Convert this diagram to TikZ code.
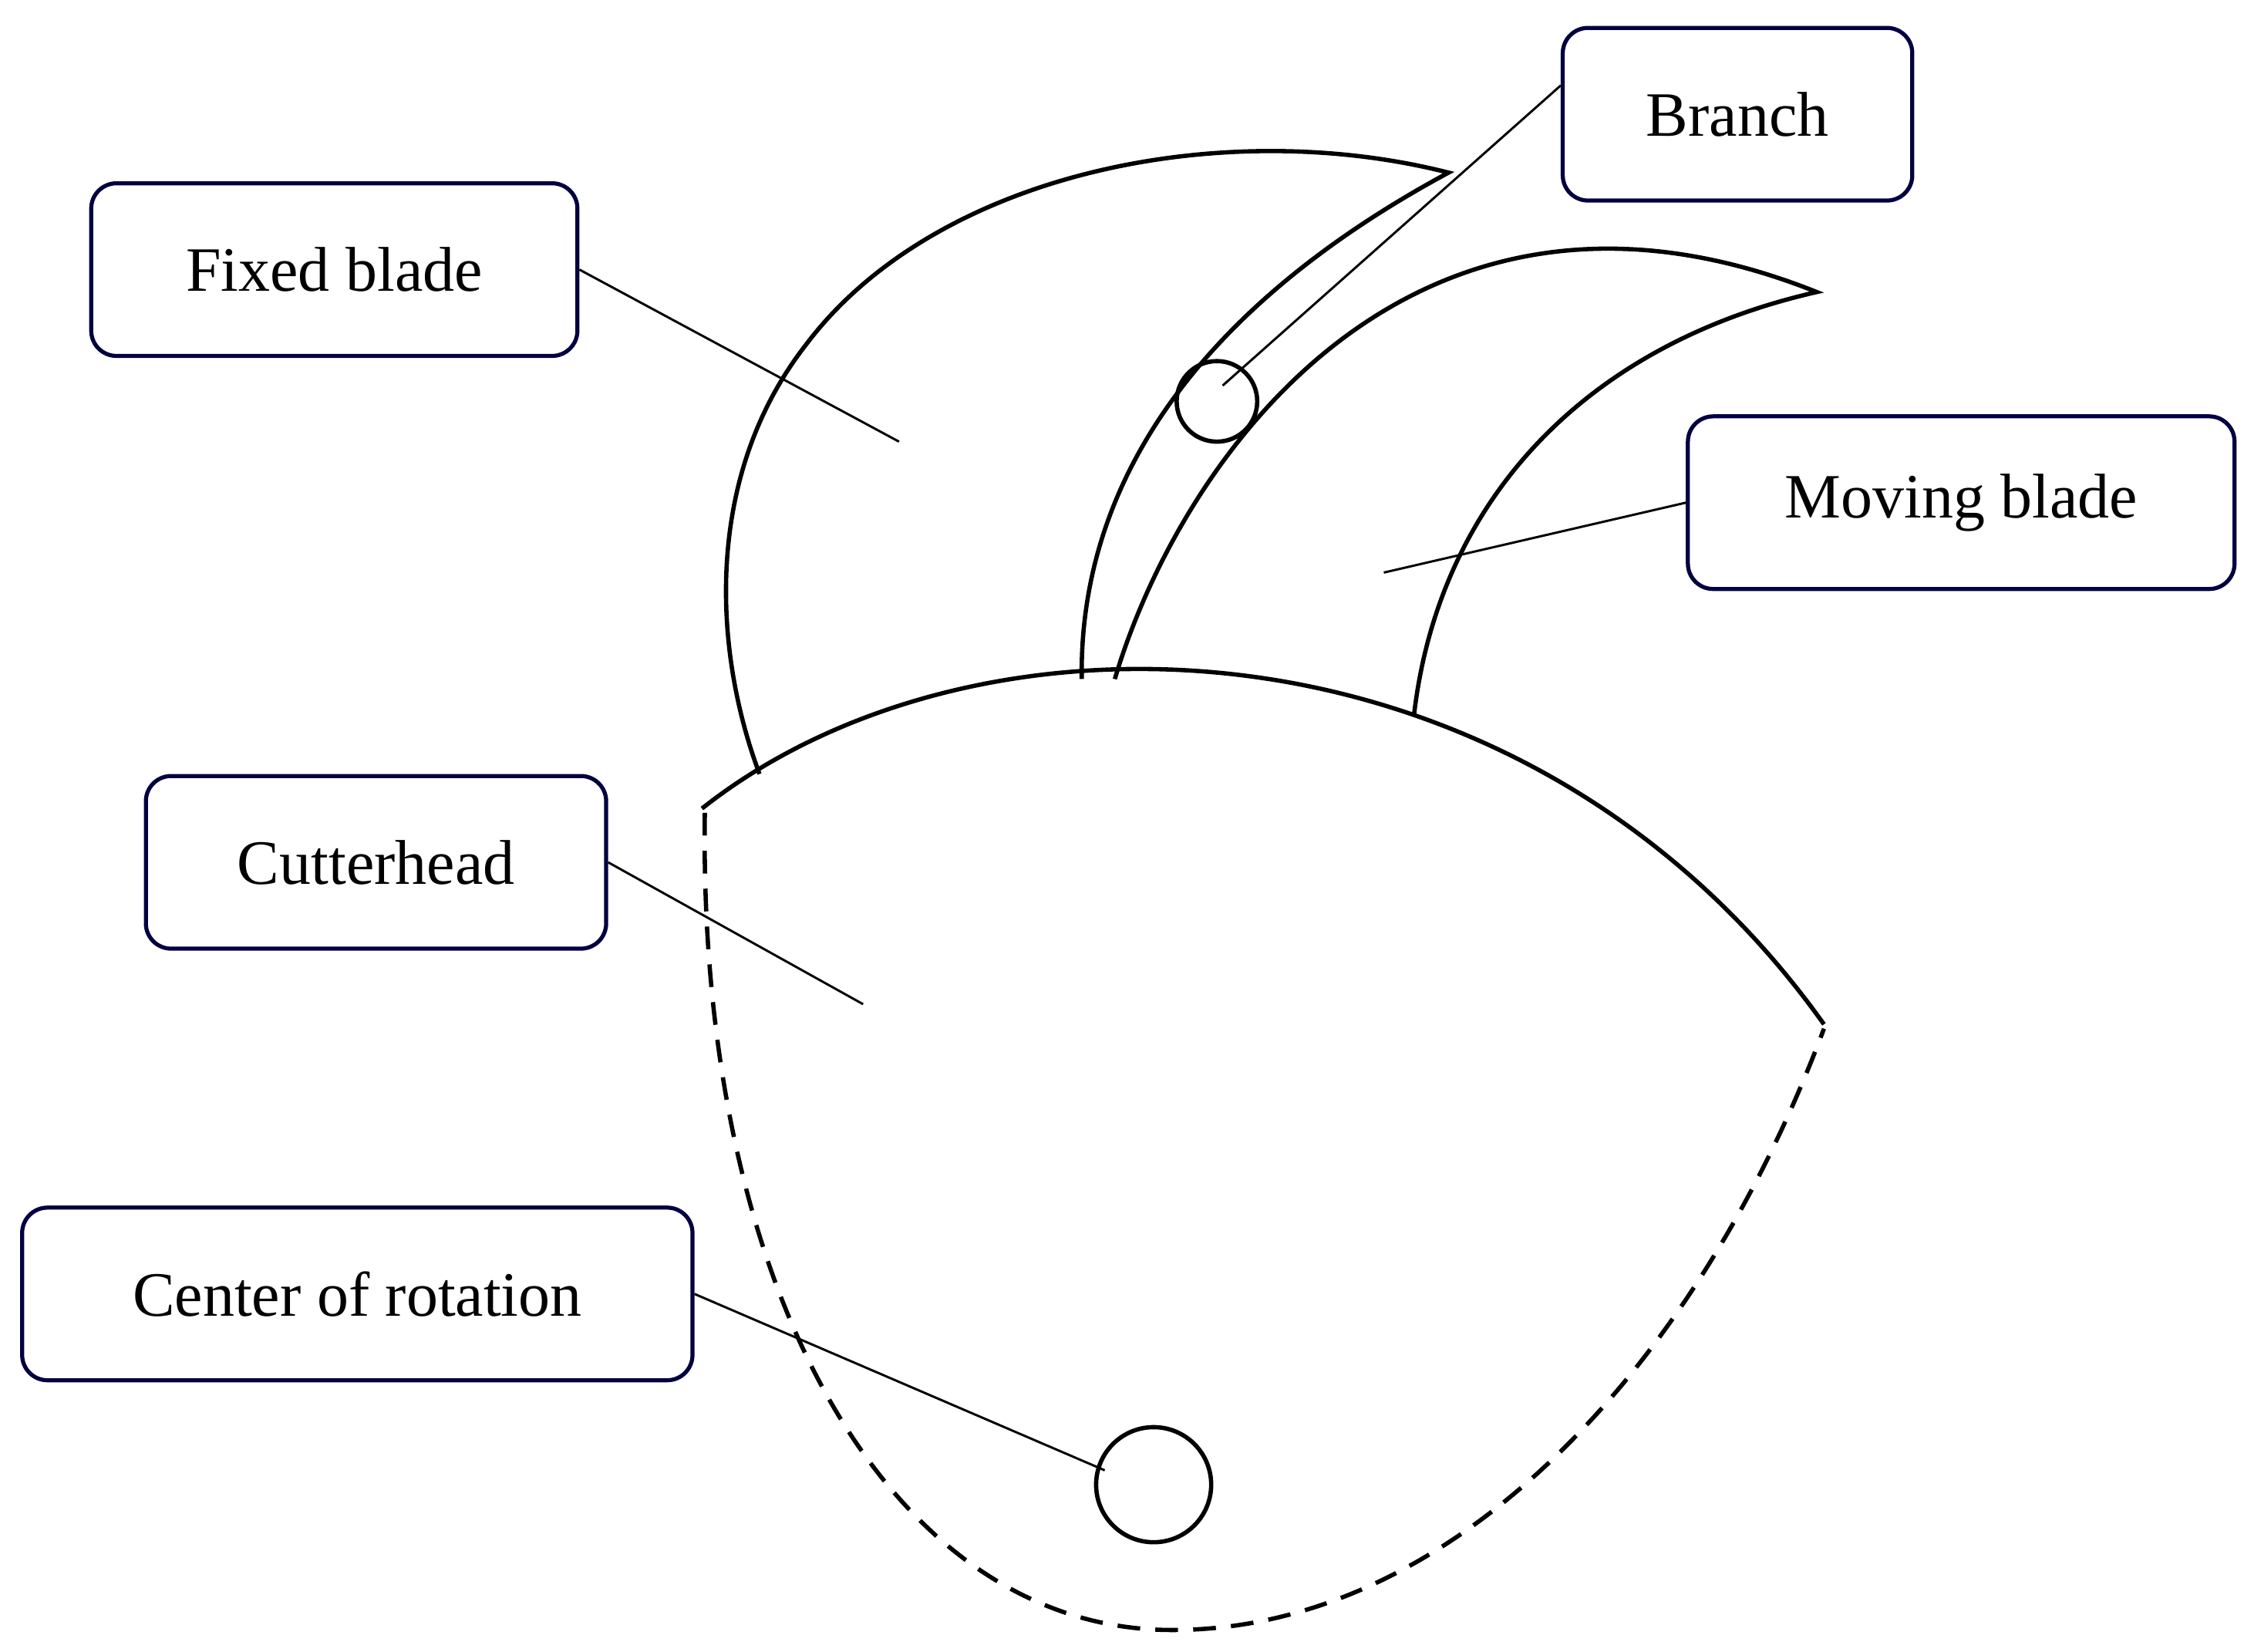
\documentclass[tikz,border=0pt]{standalone}
\usepackage{fontspec}
\setmainfont{Liberation Serif}
\begin{document}
\begin{tikzpicture}[x=0.02cm,y=-0.02cm,
 lbl/.style={draw=blue!25!black,line width=1.6pt,rounded corners=10pt,font=\fontsize{25}{30}\selectfont,inner sep=0pt,anchor=north west},
 ln/.style={line width=1.7pt},
 ld/.style={line width=0.9pt}]
\useasboundingbox (0,0) rectangle (1560,1148);
\node[lbl,minimum width=338*0.02cm,minimum height=120*0.02cm] (fb) at (62,126) {Fixed blade};
\node[lbl,minimum width=243*0.02cm,minimum height=120*0.02cm] (br) at (1085,18) {Branch};
\node[lbl,minimum width=380*0.02cm,minimum height=120*0.02cm] (mb) at (1172,288) {Moving blade};
\node[lbl,minimum width=320*0.02cm,minimum height=120*0.02cm] (ch) at (100,538) {Cutterhead};
\node[lbl,minimum width=466*0.02cm,minimum height=120*0.02cm] (cr) at (14,838) {Center of rotation};
% shapes
\draw[ln] (528,538) .. controls (495,450) and (490,330) .. (560,240) .. controls (650,120) and (850,80) .. (1007,120) .. controls (840,210) and (750,330) .. (752,472);
\draw[ln] (775,472) .. controls (820,320) and (980,90) .. (1263,203) .. controls (1100,240) and (1000,350) .. (983,497);
\draw[ln] (488,562) .. controls (680,410) and (1060,420) .. (1268,712);
\draw[ln,dashed,dash pattern=on 9pt off 6pt] (490,565) .. controls (485,900) and (620,1133) .. (815,1133) .. controls (1010,1133) and (1180,950) .. (1268,715);
\node[draw,circle,ln,minimum size=56*0.02cm,inner sep=0pt] (bc) at (846,279) {};
\node[draw,circle,ln,minimum size=80*0.02cm,inner sep=0pt] (cc) at (802,1032) {};
\coordinate (p1) at (625,307);
\coordinate (p2) at (850,268);
\coordinate (p3) at (962,398);
\coordinate (p4) at (600,698);
\coordinate (p5) at (768,1022);
\draw[ld] (fb.east) -- (p1);
\draw[ld] (br.west) ++(0,-20) -- (p2);
\draw[ld] (mb.west) -- (p3);
\draw[ld] (ch.east) -- (p4);
\draw[ld] (cr.east) -- (p5);
\end{tikzpicture}
\end{document}
